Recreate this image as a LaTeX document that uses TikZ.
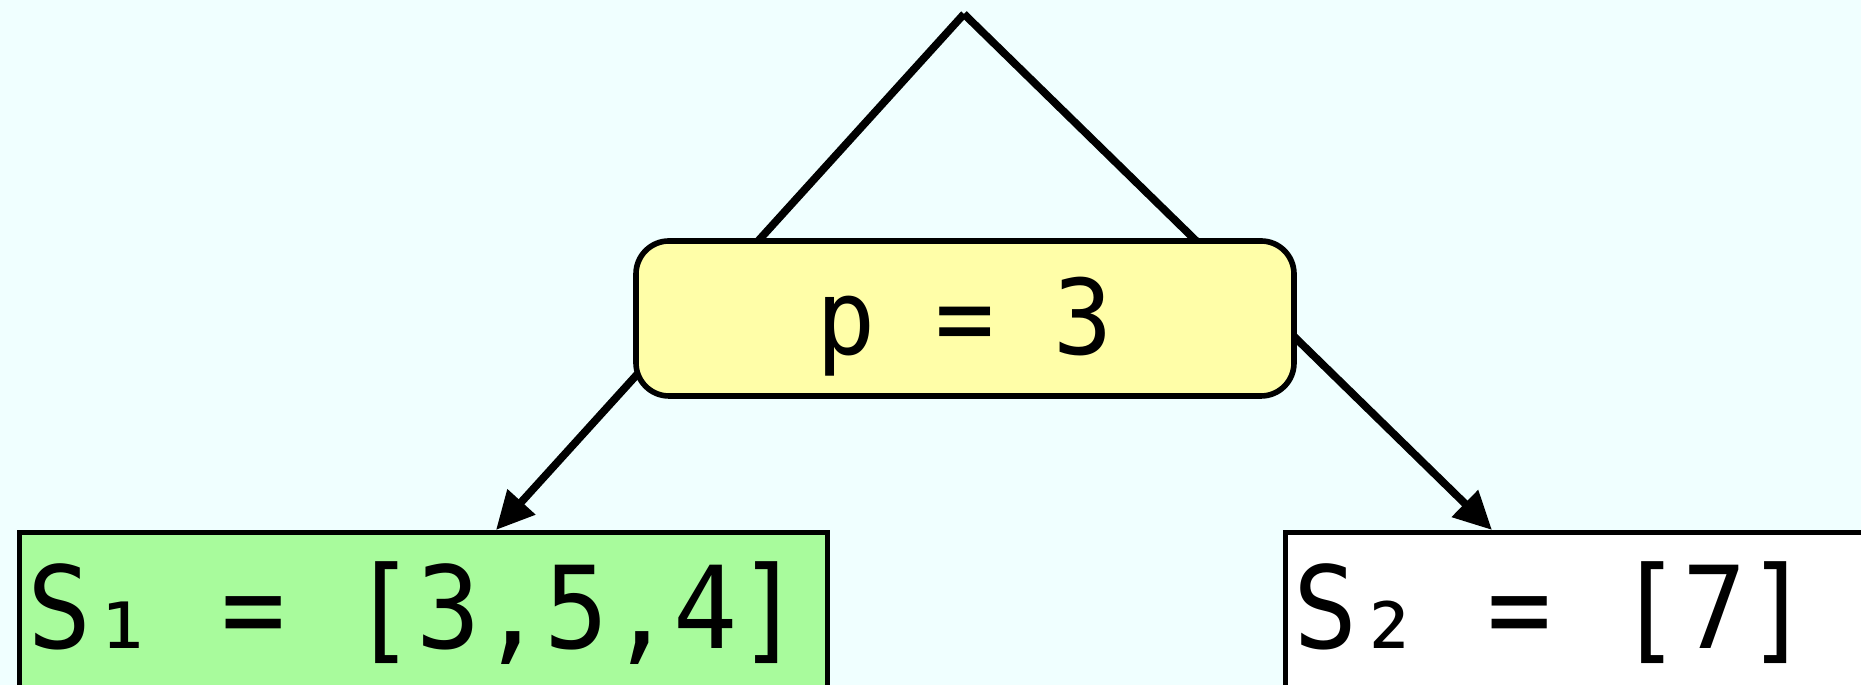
\documentclass[tikz,border=0pt]{standalone}
\usepackage{fontspec}
\setmonofont{DejaVu Sans Mono}
\usepackage{graphicx}
\usepackage{tikz}
\usetikzlibrary{arrows.meta, positioning}

\definecolor{bgcol}{RGB}{240,255,255}
\definecolor{pivotfill}{RGB}{255,254,168}
\definecolor{leftfill}{RGB}{168,251,156}

% taller glyphs, wider gaps, as in the list boxes
\newcommand{\tallt}[1]{\scalebox{1}[1.07]{#1}}
\newcommand{\gap}{\hspace{0.3cm}}

\begin{document}
\begin{tikzpicture}[
            pivot/.style={rectangle, rounded corners=0.33cm, draw=black, line width=1.6pt, fill=pivotfill,
                minimum width=6.58cm, minimum height=1.55cm, inner sep=0pt,
                text height=0.8cm, text depth=0.08cm, font=\ttfamily\fontsize{28}{30}\selectfont},
            part/.style={rectangle, draw=black, line width=1.5pt, anchor=north west,
                text width=7.92cm, align=left, inner xsep=0.08cm, inner ysep=0.36cm,
                text height=0.8cm, text depth=0.8cm, font=\ttfamily\fontsize{30.4}{32}\selectfont},
            conn/.style={draw=black, line width=2.2pt, -{Triangle[length=0.38cm, width=0.36cm]}}
        ]
            \path[use as bounding box, fill=bgcol] (0,0) rectangle (18.61,6.85);
            \clip (0,0) rectangle (18.61,6.85);
            \coordinate (top) at (9.64,6.71);
            \node[part, fill=leftfill] (s1) at (0.17,1.55) {\tallt{S₁ \gap= \gap[3,5,4]}};
            \node[part, fill=white] (s2) at (12.83,1.55) {\tallt{S₂ \gap= \gap[7]}};
            \draw[conn] (top) -- ([xshift=4.79cm]s1.north west);
            \draw[conn] (top) -- ([xshift=2.09cm]s2.north west);
            \node[pivot] (p) at (9.65,3.665) {\scalebox{1}[1.06]{p = 3}};
        \end{tikzpicture}
\end{document}
